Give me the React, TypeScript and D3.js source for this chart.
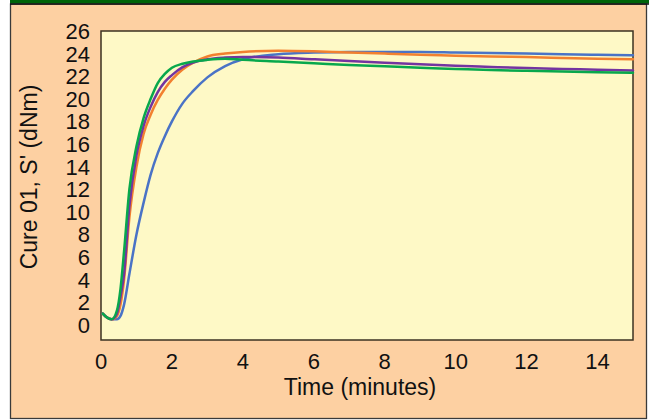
import * as d3 from 'd3';
import React from 'react';

// time in minutes, shared by all four runs
const times = [
  0.05, 0.15, 0.3, 0.45, 0.55, 0.65, 0.8, 1.0, 1.2, 1.4, 1.6, 1.8, 2.0, 2.3, 2.6, 3.0, 3.5, 4, 5, 6, 7,
  8, 9, 10, 11, 12, 13, 14, 15,
];

const blueRun = [
  1.0, 0.7, 0.5, 0.5, 0.8, 1.8, 4.5, 8.0, 10.8, 13.3, 15.2, 16.7, 18.0, 19.6, 20.7, 21.9, 22.9, 23.5,
  23.95, 24.1, 24.15, 24.15, 24.15, 24.1, 24.05, 24.0, 23.95, 23.9, 23.85,
];
const orangeRun = [
  1.0, 0.7, 0.5, 0.8, 1.8, 4.0, 9.5, 14.0, 16.9, 18.6, 19.9, 20.9, 21.7, 22.6, 23.2, 23.75, 24.0, 24.15,
  24.25, 24.2, 24.1, 24.0, 23.9, 23.82, 23.75, 23.7, 23.62, 23.55, 23.5,
];
const purpleRun = [
  1.0, 0.7, 0.5, 1.0, 2.5, 4.5, 10.5, 15.0, 17.6, 19.3, 20.6, 21.5, 22.1, 22.8, 23.2, 23.5, 23.65, 23.7,
  23.65, 23.5, 23.35, 23.2, 23.05, 22.92, 22.82, 22.72, 22.65, 22.57, 22.5,
];
const greenRun = [
  1.0, 0.7, 0.5, 1.3, 3.2, 6.5, 12.0, 15.8, 18.3, 20.0, 21.4, 22.2, 22.75, 23.1, 23.3, 23.45, 23.55,
  23.45, 23.3, 23.15, 23.0, 22.88, 22.75, 22.65, 22.55, 22.48, 22.42, 22.36, 22.3,
];

const xTicks = [0, 2, 4, 6, 8, 10, 12, 14];
const yTicks = [0, 2, 4, 6, 8, 10, 12, 14, 16, 18, 20, 22, 24, 26];

const series = [
  { name: 'blue', values: blueRun, color: '#4a73c6' },
  { name: 'orange', values: orangeRun, color: '#f2802f' },
  { name: 'purple', values: purpleRun, color: '#7434a0' },
  { name: 'green', values: greenRun, color: '#08a84c' },
];

export default function App() {
  const W = 649;
  const H = 420;
  const plot = { left: 101, top: 31, right: 633, bottom: 340 };

  const x = d3.scaleLinear().domain([0, 15]).range([plot.left, plot.right]);
  const y = d3.scaleLinear().domain([-1.33, 26]).range([plot.bottom, plot.top]);

  const line = d3
    .line<number>()
    .x((_, i) => x(times[i]))
    .y(d => y(d))
    .curve(d3.curveMonotoneX);

  const font = '"Liberation Sans", Arial, Helvetica, sans-serif';

  return (
    <svg width={W} height={H} style={{ position: 'absolute', left: 0, top: 0 }} fontFamily={font}>
      <rect x={0} y={0} width={W} height={H} fill="#ffffff" />
      {/* outer panel */}
      <rect x={10.5} y={4} width={636} height={414.5} fill="#fdd0a2" stroke="#3a3a3a" strokeWidth={1.3} />
      <rect x={10} y={0} width={W - 10} height={3.5} fill="#00640a" />
      <line x1={10} x2={W} y1={4} y2={4} stroke="#111" strokeWidth={1.5} />

      {/* plot area */}
      <rect
        x={plot.left}
        y={plot.top}
        width={plot.right - plot.left}
        height={plot.bottom - plot.top}
        fill="#fef9c6"
        stroke="#3b3222"
        strokeWidth={1.5}
      />

      <g>
        {series.map(s => (
          <path
            key={s.name}
            d={line(s.values) ?? ''}
            fill="none"
            stroke={s.color}
            strokeWidth={2.5}
            strokeLinejoin="round"
            strokeLinecap="round"
          />
        ))}
      </g>

      {/* y tick labels */}
      {yTicks.map(t => (
        <text key={t} x={90} y={y(t)} dy="0.36em" textAnchor="end" fontSize={22} fill="#111">
          {t}
        </text>
      ))}
      {/* x tick labels */}
      {xTicks.map(t => (
        <text key={t} x={x(t)} y={369} textAnchor="middle" fontSize={22} fill="#111">
          {t}
        </text>
      ))}

      <text x={360} y={395} textAnchor="middle" fontSize={23} fill="#111">
        Time (minutes)
      </text>
      <text
        transform={`translate(37,177) rotate(-90)`}
        textAnchor="middle"
        fontSize={23}
        fill="#111"
      >
        Cure 01, S' (dNm)
      </text>
    </svg>
  );
}
